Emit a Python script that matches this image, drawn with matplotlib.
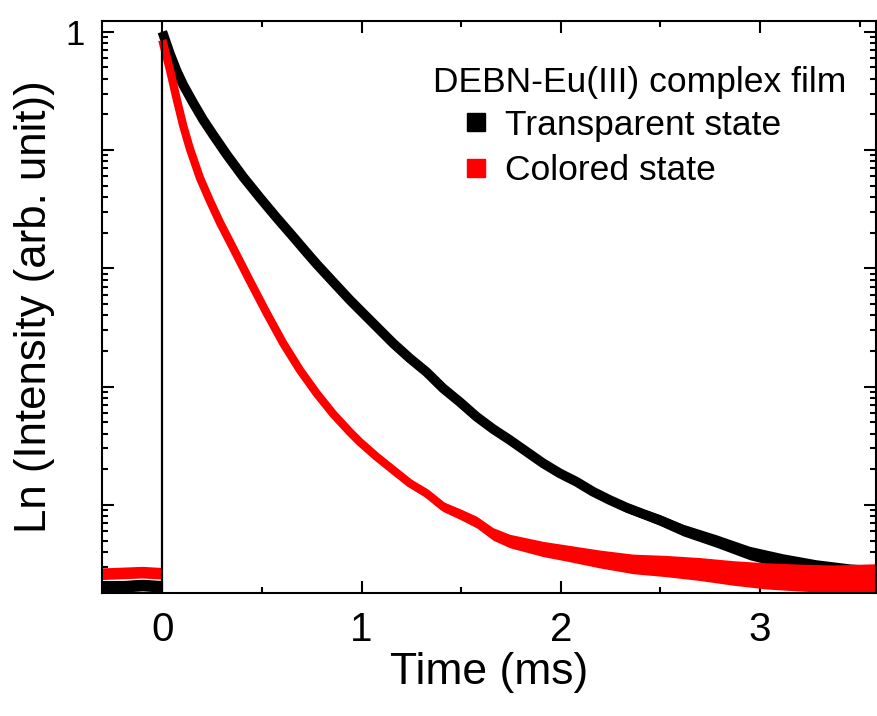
import numpy as np
import matplotlib
matplotlib.use('Agg')
import matplotlib.pyplot as plt
from matplotlib.ticker import LogLocator, MultipleLocator, FixedLocator, NullFormatter, FuncFormatter

plt.rcParams['font.family'] = ['Liberation Sans', 'DejaVu Sans']

# ---- data ----
pre_t = [-0.30, -0.20, -0.10, -0.002]
black_pre = [2.05e-5, 2.05e-5, 2.10e-5, 2.05e-5]
red_pre = [2.62e-5, 2.66e-5, 2.70e-5, 2.64e-5]

black_t = [0.0, 0.0386, 0.0722, 0.1053, 0.1555, 0.2056, 0.2558, 0.3230, 0.4062,
           0.4900, 0.5737, 0.6570, 0.7242, 0.7743, 0.8576, 0.9413, 0.9915, 1.0752,
           1.1585, 1.2422, 1.3260, 1.4092, 1.4930, 1.5767, 1.6600, 1.7437, 1.8275,
           1.9107, 1.9945, 2.0782, 2.1615, 2.2452, 2.3290, 2.4122, 2.4960, 2.6128,
           2.7803, 2.9473, 3.1143, 3.2818, 3.4488, 3.5827]
black_I = [1.0, 0.648, 0.4654, 0.3543, 0.2496, 0.1793, 0.1339, 0.0916, 0.0591,
           0.0395, 0.02677, 0.01846, 0.01360, 0.01087, 0.00766, 0.00540, 0.00444,
           0.003209, 0.002323, 0.001734, 0.001328, 0.000967, 0.000741, 0.000557,
           0.000438, 0.000354, 0.000282, 0.000225, 0.000185, 0.000157, 0.0001293,
           0.0001100, 9.50e-5, 8.40e-5, 7.45e-5, 6.13e-5, 4.95e-5, 3.92e-5, 3.36e-5,
           2.99e-5, 2.76e-5, 2.66e-5]
black_spread = [1.0] * 17 + [1.02, 1.03, 1.03, 1.04, 1.04, 1.05, 1.05, 1.06, 1.06,
                             1.07, 1.07, 1.08, 1.08, 1.09, 1.09, 1.10, 1.10, 1.11,
                             1.12, 1.13, 1.14, 1.15, 1.15, 1.15, 1.15]

red_t = [0.0, 0.0386, 0.0722, 0.1053, 0.1389, 0.1891, 0.2392, 0.2894, 0.3561,
         0.4398, 0.5236, 0.6068, 0.6906, 0.7743, 0.8576, 0.9413, 0.9915, 1.0752,
         1.1585, 1.2422, 1.3260, 1.4092, 1.4930, 1.5767, 1.6600, 1.7437, 1.8275,
         1.9107, 2.0281, 2.1951, 2.3621, 2.5296, 2.6966, 2.8636, 3.0311, 3.1981,
         3.3651, 3.5827]
red_I = [0.85, 0.4745, 0.2699, 0.1596, 0.1020, 0.0580, 0.03707, 0.02438, 0.01476,
         0.00781, 0.00419, 0.002323, 0.001381, 0.000878, 0.000587, 0.000413,
         0.000340, 0.0002555, 0.0001972, 0.0001523, 0.0001253, 9.66e-5, 8.38e-5,
         7.17e-5, 5.68e-5, 4.95e-5, 4.58e-5, 4.24e-5, 3.92e-5, 3.49e-5, 3.17e-5,
         3.04e-5, 2.87e-5, 2.66e-5, 2.51e-5, 2.43e-5, 2.37e-5, 2.41e-5]
red_spread = [1.0] * 15 + [1.03, 1.04, 1.05, 1.06, 1.08, 1.09, 1.10, 1.11, 1.12,
                           1.13, 1.14, 1.15, 1.16, 1.17, 1.19, 1.21, 1.23, 1.25,
                           1.27, 1.29, 1.30, 1.31, 1.32]

legend_title = "DEBN-Eu(III) complex film"
series_names = ["Transparent state", "Colored state"]
series_colors = ["#000000", "#ff0000"]

# ---- figure ----
fig = plt.figure(figsize=(8.77, 7.16), dpi=100)
ax = fig.add_axes([0.116, 0.1714, 0.8825, 0.7997])
ax.set_yscale('log')

series = [
    (black_t, black_I, black_spread, black_pre, series_colors[0], 7.0, 1.12),
    (red_t, red_I, red_spread, red_pre, series_colors[1], 6.0, 1.12),
]
for t, I, s, pre, c, lw, pre_s in series:
    t = np.asarray(t); I = np.asarray(I); s = np.asarray(s)
    ax.fill_between(t, I / s, I * s, color=c, lw=0, zorder=2)
    ax.plot(t, I, color=c, lw=lw, solid_capstyle='butt', solid_joinstyle='round', zorder=2)
    pre = np.asarray(pre)
    ax.fill_between(pre_t, pre / pre_s, pre * pre_s, color=c, lw=0, zorder=2)
    ax.plot(pre_t, pre, color=c, lw=lw, solid_capstyle='butt', zorder=2)

# vertical rise at t = 0
ax.plot([0, 0], [black_pre[-1] * 0.5, black_I[0]], color='black', lw=1.6, zorder=3)

ax.set_xlim(-0.304, 3.58)
ax.set_ylim(1.79e-5, 1.24)

ax.xaxis.set_major_locator(FixedLocator([0, 1, 2, 3]))
ax.xaxis.set_minor_locator(MultipleLocator(0.5))
ax.yaxis.set_major_locator(LogLocator(base=10, numticks=20))
ax.yaxis.set_minor_locator(LogLocator(base=10, subs=np.arange(2, 10), numticks=20))
ax.yaxis.set_major_formatter(FuncFormatter(lambda v, p: '1' if abs(v - 1) < 1e-9 else ''))
ax.yaxis.set_minor_formatter(NullFormatter())

ax.tick_params(which='both', direction='in', top=True, right=True, width=1.5)
ax.tick_params(which='major', length=8.5)
ax.tick_params(which='minor', length=4.5)
ax.tick_params(axis='x', which='major', labelsize=29, pad=13)
ax.tick_params(axis='y', which='major', labelsize=25, pad=12)
for sp in ax.spines.values():
    sp.set_linewidth(1.5)

ax.set_xlabel("Time (ms)", fontsize=32, labelpad=2)
ax.set_ylabel("Ln (Intensity (arb. unit))", fontsize=31.5, labelpad=8)

# legend (manual layout)
ax.text(0.4279, 0.876, legend_title, transform=ax.transAxes, fontsize=25.5,
        ha='left', va='baseline')
for i, (name, col) in enumerate(zip(series_names, series_colors)):
    ym = 0.8222 - i * 0.0786
    yb = 0.8004 - i * 0.0786
    ax.plot([0.484], [ym], marker='s', ms=13.5, color=col, transform=ax.transAxes,
            clip_on=False, linestyle='none')
    ax.text(0.5209, yb, name, transform=ax.transAxes, fontsize=25.5,
            ha='left', va='baseline')

fig.savefig("out.png", dpi=100)
